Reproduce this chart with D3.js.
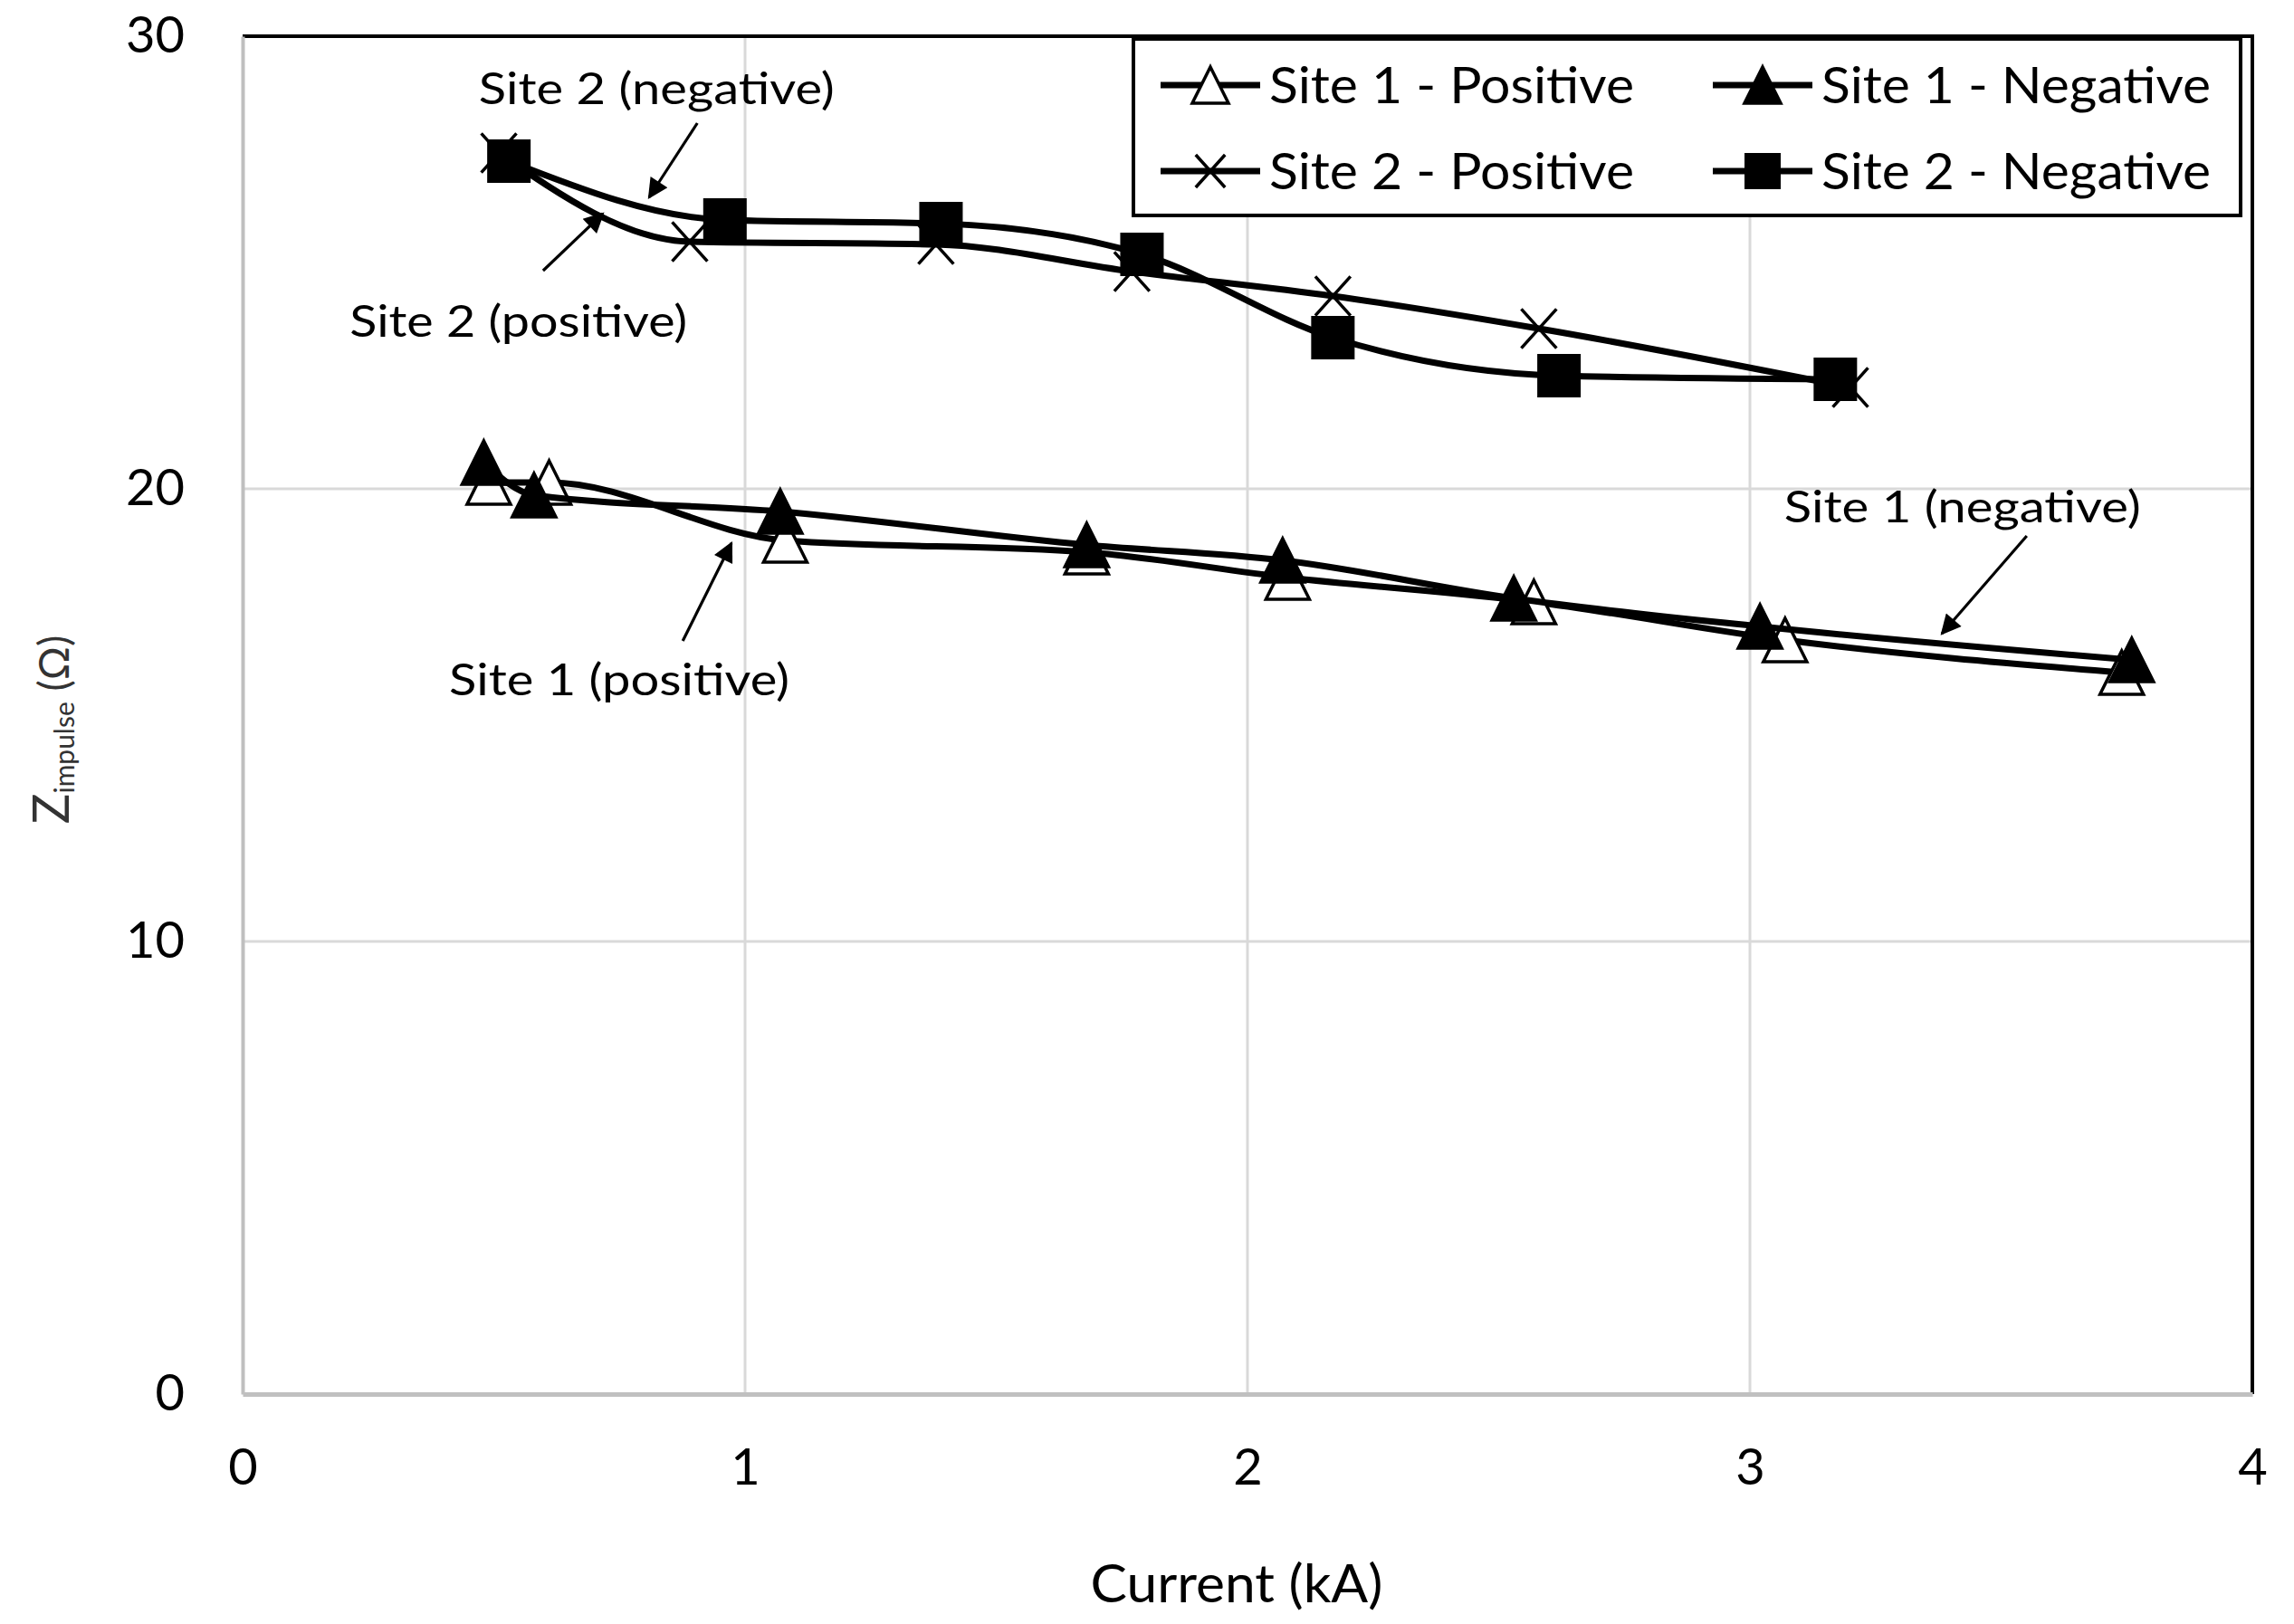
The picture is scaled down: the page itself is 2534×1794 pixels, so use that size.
<!DOCTYPE html>
<html>
<head>
<meta charset="utf-8">
<script src="https://cdn.jsdelivr.net/npm/d3@7"></script>
<style>
  body { margin: 0; background: #fff; }
  text { font-family: Lato, "Open Sans", sans-serif; fill: #000; }
</style>
</head>
<body>
<div id="chart"></div>
<script>
// values
const site1PosX = [0.49, 0.61, 1.08, 1.68, 2.08, 2.57, 3.07, 3.74];
const site1PosY = [20.14, 20.14, 18.86, 18.6, 18.04, 17.5, 16.66, 15.94];
const site1NegX = [0.48, 0.58, 1.07, 1.68, 2.07, 2.53, 3.02, 3.76];
const site1NegY = [20.58, 19.86, 19.5, 18.76, 18.42, 17.58, 16.96, 16.22];
const site2PosX = [0.51, 0.89, 1.38, 1.77, 2.17, 2.58, 3.2];
const site2PosY = [27.42, 25.46, 25.4, 24.8, 24.26, 23.54, 22.24];
const site2NegX = [0.53, 0.96, 1.39, 1.79, 2.17, 2.62, 3.17];
const site2NegY = [27.24, 25.94, 25.86, 25.18, 23.34, 22.5, 22.42];

const xTicks = [0, 1, 2, 3, 4];
const yTicks = [0, 10, 20, 30];

const seriesNames = ["Site 1 - Positive", "Site 1 - Negative", "Site 2 - Positive", "Site 2 - Negative"];
const markerTypes = ["triOpen", "triFilled", "cross", "square"];

// annotation labels: text start, arrow start and arrow tip in data units
const noteText = ["Site 2 (negative)", "Site 2 (positive)", "Site 1 (positive)", "Site 1 (negative)"];
const noteAt = [[0.47, 28.5], [0.213, 23.36], [0.411, 15.44], [3.068, 19.26]];
const noteFrom = [[0.905, 28.08], [0.598, 24.82], [0.876, 16.64], [3.551, 18.96]];
const noteTo = [[0.809, 26.44], [0.717, 26.08], [0.973, 18.8], [3.382, 16.8]];
const noteWidth = [393, 373, 376, 394];

const W = 2534, H = 1794;
const plot = { left: 268, right: 2488, top: 40, bottom: 1540 };

const svg = d3.select("#chart").append("svg")
    .attr("width", W)
    .attr("height", H);

const x = d3.scaleLinear().domain([0, 4]).range([plot.left, plot.right]);
const y = d3.scaleLinear().domain([0, 30]).range([plot.bottom, plot.top]);

// gridlines
svg.append("g")
    .selectAll("line")
    .data(xTicks.filter(d => d > 0 && d < 4))
    .enter().append("line")
    .attr("x1", d => x(d)).attr("x2", d => x(d))
    .attr("y1", plot.top).attr("y2", plot.bottom)
    .attr("stroke", "#d9d9d9").attr("stroke-width", 3);

svg.append("g")
    .selectAll("line")
    .data(yTicks.filter(d => d > 0 && d < 30))
    .enter().append("line")
    .attr("x1", plot.left).attr("x2", plot.right)
    .attr("y1", d => y(d)).attr("y2", d => y(d))
    .attr("stroke", "#d9d9d9").attr("stroke-width", 3);

// plot border: top and right black
svg.append("path")
    .attr("d", `M${plot.left},${plot.top}H${plot.right}V${plot.bottom}`)
    .attr("fill", "none")
    .attr("stroke", "#000")
    .attr("stroke-width", 4);

// axes
const yAxis = svg.append("g")
    .attr("transform", `translate(${plot.left},0)`)
    .call(d3.axisLeft(y).tickValues(yTicks).tickSize(0).tickPadding(64).tickFormat(d3.format("d")));
yAxis.select(".domain").attr("stroke", "#bfbfbf").attr("stroke-width", 4);
yAxis.selectAll("text")
    .style("font-family", "Lato, 'Open Sans', sans-serif")
    .attr("font-size", 56).attr("fill", "#000");

const xAxis = svg.append("g")
    .attr("transform", `translate(0,${plot.bottom})`)
    .call(d3.axisBottom(x).tickValues(xTicks).tickSize(0).tickPadding(60).tickFormat(d3.format("d")));
xAxis.select(".domain").attr("stroke", "#c0c0c0").attr("stroke-width", 5);
xAxis.selectAll("text")
    .style("font-family", "Lato, 'Open Sans', sans-serif")
    .attr("font-size", 56).attr("fill", "#000");

// axis titles
svg.append("text")
    .attr("x", (plot.left + plot.right) / 2 - 12)
    .attr("y", 1770)
    .attr("text-anchor", "middle")
    .attr("font-size", 58)
    .attr("textLength", 323)
    .attr("lengthAdjust", "spacingAndGlyphs")
    .text("Current (kA)");

const yTitle = svg.append("text")
    .attr("transform", "translate(76,806) rotate(-90)")
    .attr("text-anchor", "middle")
    .style("fill", "#333");
yTitle.append("tspan").attr("font-size", 56).text("Z");
yTitle.append("tspan").attr("font-size", 30).attr("dy", 6).text("impulse");
yTitle.append("tspan").attr("font-size", 46).attr("dy", -6).text(" (\u03A9)");

// markers
function drawMarker(g, type, cx, cy, s) {
    const h = s / 2;
    if (type === "triOpen" || type === "triFilled") {
        g.append("path")
            .attr("d", `M${cx},${cy - h}L${cx + h},${cy + h}L${cx - h},${cy + h}Z`)
            .attr("fill", type === "triOpen" ? "#fff" : "#000")
            .attr("stroke", "#000")
            .attr("stroke-width", 3.5)
            .attr("stroke-linejoin", "miter");
    } else if (type === "square") {
        g.append("rect")
            .attr("x", cx - h).attr("y", cy - h)
            .attr("width", s).attr("height", s)
            .attr("fill", "#000");
    } else {
        const a = h * 0.9;
        g.append("path")
            .attr("d", `M${cx - a * 0.9},${cy - a}L${cx + a * 0.9},${cy + a}M${cx + a * 0.9},${cy - a}L${cx - a * 0.9},${cy + a}`)
            .attr("stroke", "#000")
            .attr("stroke-width", 3.5)
            .attr("fill", "none");
    }
}

const seriesX = [site1PosX, site1NegX, site2PosX, site2NegX];
const seriesY = [site1PosY, site1NegY, site2PosY, site2NegY];

const line = d3.line()
    .x(d => x(d[0]))
    .y(d => y(d[1]))
    .curve(d3.curveMonotoneX);

seriesX.forEach((xs, i) => {
    const pts = xs.map((v, j) => [v, seriesY[i][j]]);
    const g = svg.append("g");
    g.append("path")
        .datum(pts)
        .attr("d", line)
        .attr("fill", "none")
        .attr("stroke", "#000")
        .attr("stroke-width", 7);
    pts.forEach(p => drawMarker(g, markerTypes[i], x(p[0]), y(p[1]), 48));
});

// annotations
svg.append("defs").append("marker")
    .attr("id", "arrow")
    .attr("viewBox", "0 0 10 10")
    .attr("refX", 9).attr("refY", 5)
    .attr("markerWidth", 9).attr("markerHeight", 7)
    .attr("markerUnits", "strokeWidth")
    .attr("orient", "auto")
    .append("path")
    .attr("d", "M0,0L10,5L0,10Z")
    .attr("fill", "#000");

noteText.forEach((t, i) => {
    svg.append("line")
        .attr("x1", x(noteFrom[i][0])).attr("y1", y(noteFrom[i][1]))
        .attr("x2", x(noteTo[i][0])).attr("y2", y(noteTo[i][1]))
        .attr("stroke", "#000")
        .attr("stroke-width", 3.2)
        .attr("marker-end", "url(#arrow)");
    svg.append("text")
        .attr("x", x(noteAt[i][0]))
        .attr("y", y(noteAt[i][1]))
        .attr("font-size", 49)
        .attr("textLength", noteWidth[i])
        .attr("lengthAdjust", "spacingAndGlyphs")
        .text(t);
});

// legend
const legend = svg.append("g");
legend.append("rect")
    .attr("x", 1252).attr("y", 43)
    .attr("width", 1223).attr("height", 195)
    .attr("fill", "#fff")
    .attr("stroke", "#000")
    .attr("stroke-width", 4);

const legendCol = [1282, 1892];
const legendRow = [94, 189];
const legendTextW = [403, 430, 403, 430];

seriesNames.forEach((name, i) => {
    const lx = legendCol[i % 2];
    const ly = legendRow[Math.floor(i / 2)];
    legend.append("line")
        .attr("x1", lx).attr("x2", lx + 110)
        .attr("y1", ly).attr("y2", ly)
        .attr("stroke", "#000").attr("stroke-width", 7);
    drawMarker(legend, markerTypes[i], lx + 55, ly, 40);
    legend.append("text")
        .attr("x", lx + 120)
        .attr("y", ly + 20)
        .attr("font-size", 56)
        .attr("textLength", legendTextW[i])
        .attr("lengthAdjust", "spacingAndGlyphs")
        .text(name);
});
</script>
</body>
</html>
